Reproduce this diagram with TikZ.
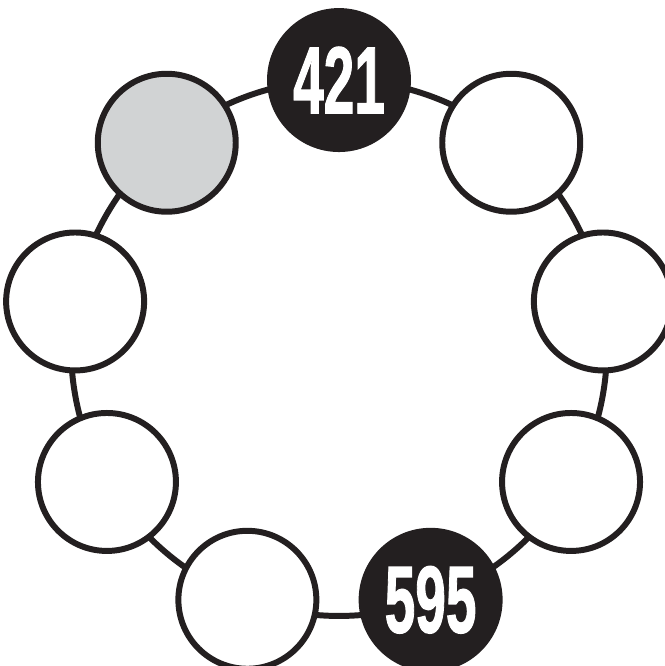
\documentclass[tikz,border=0pt]{standalone}
\usepackage{fontspec}
\newfontfamily\numfont{Liberation Sans}[BoldFeatures={FakeBold=1.5}]
\usetikzlibrary{positioning}
\definecolor{inkblack}{HTML}{231F20}
\definecolor{spotgray}{HTML}{D1D3D4}
\tikzset{
ringnode/.style={circle,draw=inkblack,line width=3.4pt,inner sep=0pt,outer sep=0pt,minimum size=10.72cm},
spot/.style={circle,draw=inkblack,line width=3.4pt,fill=white,inner sep=0pt,minimum size=2.76cm},
spotgiven/.style={spot,fill=inkblack,text=white,font=\numfont\bfseries\fontsize{54}{54}\selectfont},
spotmark/.style={spot,fill=spotgray}
}
\newcommand{\narrownum}[1]{\scalebox{0.58}[1]{#1}}

\begin{document}
\begin{tikzpicture}[
x=0.02cm,
y=0.02cm
]
\useasboundingbox (-339,-318) rectangle (326,348);
\node[ringnode] (ring) at (0,0) {};
\node[spotgiven] (top) at (ring.90) {\narrownum{421}};
\node[spot] (upright) at (ring.50) {};
\node[spot] (right) at (ring.10) {};
\node[spot] (lowright) at (ring.-30) {};
\node[spotgiven] (bottomright) at (ring.-70) {\narrownum{595}};
\node[spot] (bottomleft) at (ring.-110) {};
\node[spot] (lowleft) at (ring.-150) {};
\node[spot] (left) at (ring.170) {};
\node[spotmark] (upleft) at (ring.130) {};
\end{tikzpicture}
\end{document}
